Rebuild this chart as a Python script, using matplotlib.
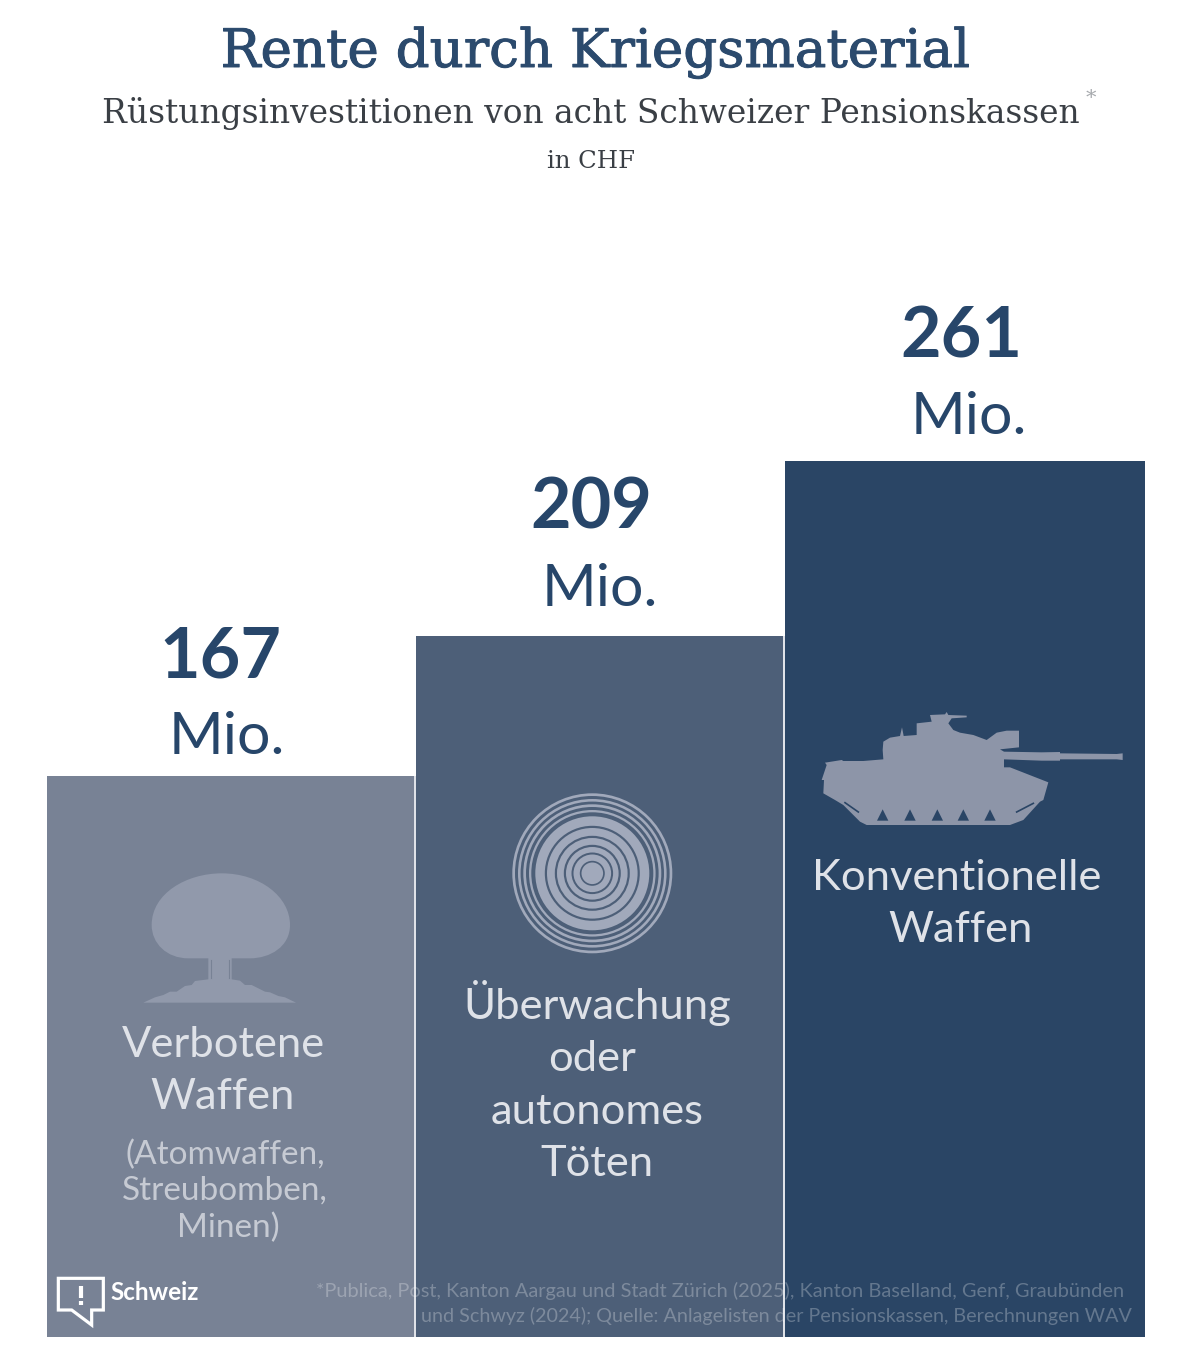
import matplotlib
matplotlib.use('Agg')
import matplotlib.pyplot as plt
import matplotlib.patheffects as pe
from matplotlib.patches import Circle, PathPatch, Polygon
from matplotlib.path import Path

W, H = 1200, 1355
SANS = 'Lato'
SERIF = 'DejaVu Serif'

# data
categories = ['Verbotene Waffen', 'Überwachung oder autonomes Töten', 'Konventionelle Waffen']
values_mio = [167, 209, 261]
bar_colors = ['#788295', '#4d5f78', '#2a4565']
bar_left = [47, 416, 785]
bar_width = [367, 367, 360]

INK = '#27466a'
LABEL = '#dfe2e8'

fig = plt.figure(figsize=(W / 100, H / 100), dpi=100, facecolor='white')

# bars, y axis in CHF million
bar_ax = fig.add_axes([0, (H - 1337) / H, 1, 876 / H])
bar_ax.set_xlim(0, W)
bar_ax.set_ylim(0, 261)
bar_ax.axis('off')
bar_ax.bar(bar_left, values_mio, width=bar_width, align='edge', color=bar_colors, linewidth=0)

# everything else in pixel coordinates, y pointing down
ax = fig.add_axes([0, 0, 1, 1])
ax.set_xlim(0, W)
ax.set_ylim(H, 0)
ax.axis('off')
ax.patch.set_alpha(0)


def txt(x, y, s, size, color=LABEL, weight='normal', family=SANS, **kw):
    return ax.text(x, y, s, fontsize=size, color=color, fontweight=weight, family=family,
                   ha=kw.pop('ha', 'center'), va='center', **kw)


# header
title = txt(595, 53, 'Rente durch Kriegsmaterial', 38.2, color='#2b4a6d', family=SERIF)
title.set_path_effects([pe.withStroke(linewidth=0.7, foreground='#2b4a6d')])
txt(591, 114, 'Rüstungsinvestitionen von acht Schweizer Pensionskassen', 23.7, color='#3a3f45', family=SERIF)
txt(1091, 99, '*', 15, color='#a6a9ad', family=SERIF)
txt(591, 161, 'in CHF', 17.6, color='#3a3f45', family=SERIF)

# value labels above the bars
for v, x_num, x_mio, y_num, y_mio in zip(values_mio, [220, 591, 961], [227, 600, 969],
                                         [657, 508, 337], [737, 589, 417]):
    txt(x_num, y_num, str(v), 50.5, color=INK, weight='bold')
    txt(x_mio, y_mio, 'Mio.', 42.5, color=INK)

# category names inside the bars
for x, y, s in [(223, 1045, 'Verbotene'), (223, 1097, 'Waffen'),
                (597, 1003, 'Überwachung'), (592, 1059, 'oder'),
                (597, 1112, 'autonomes'), (597, 1164, 'Töten'),
                (957, 878, 'Konventionelle'), (961, 930, 'Waffen')]:
    txt(x, y, s, 31.3)
for x, y, s in [(225, 1155, '(Atomwaffen,'), (225, 1191, 'Streubomben,'), (228, 1228, 'Minen)')]:
    txt(x, y, s, 24, color='#c6cad3')


# mushroom cloud
def mush(x, y):
    return (130 + x / 3, 860 + y / 3)


M, L, C = Path.MOVETO, Path.LINETO, Path.CURVE4
cloud = [(M, 65, 195), (C, 65, 100), (C, 170, 40), (C, 275, 40),
         (C, 390, 40), (C, 480, 110), (C, 480, 195),
         (C, 480, 260), (C, 420, 295), (C, 360, 295),
         (L, 305, 295), (L, 305, 358), (L, 330, 362), (L, 345, 375), (L, 365, 375),
         (L, 385, 385), (L, 405, 395), (L, 420, 397), (L, 445, 408), (L, 465, 412),
         (L, 498, 428), (L, 40, 428), (L, 75, 412), (L, 100, 405), (L, 120, 395),
         (L, 140, 395), (L, 165, 378), (L, 185, 375), (L, 195, 363), (L, 235, 358),
         (L, 235, 295), (L, 175, 295),
         (C, 110, 295), (C, 65, 250), (C, 65, 195)]
ax.add_patch(PathPatch(Path([mush(x, y) for _, x, y in cloud], [c for c, _, _ in cloud]),
                       fc='#9199ab', ec='none'))
for x in [243, 297]:
    ax.plot(*zip(mush(x, 300), mush(x, 355)), color='#788295', lw=0.8)

# concentric rings, light and dark bands from the outside in
ring_radii = [80, 77.3, 74.3, 71.7, 69, 66.3, 63.3, 61, 57, 47.5, 45.3, 37.5, 35.3, 28.5, 26.3, 20.8, 18.8, 12.5, 10.8]
for i, r in enumerate(ring_radii):
    ax.add_patch(Circle((592.3, 873.3), r, fc='#4d5f78' if i % 2 else '#a1a9bb', ec='none'))


# tank
def tank(x, y):
    return (800 + x / 3, 690 + y / 3)


hull = [(75, 218), (125, 210), (130, 213), (190, 213), (250, 208), (248, 180), (250, 155), (270, 143),
        (300, 138), (306, 112), (311, 138), (350, 135), (350, 100), (395, 95), (390, 75), (435, 73),
        (440, 66), (445, 75), (500, 77), (500, 82), (455, 85), (445, 100), (460, 120), (480, 128),
        (520, 135), (560, 150), (590, 128), (620, 122), (657, 122), (657, 172), (600, 178), (612, 185),
        (725, 187), (780, 186), (780, 190), (950, 192), (968, 190), (968, 210), (950, 208), (780, 208),
        (780, 212), (725, 212), (612, 208), (612, 232), (630, 232), (745, 277), (730, 330), (720, 335),
        (670, 390), (630, 405), (200, 405), (180, 395), (130, 345), (105, 330), (70, 310), (72, 270),
        (65, 270), (80, 225)]
ax.add_patch(Polygon([tank(x, y) for x, y in hull], closed=True, fc='#8d95a8', ec='none'))
for cx in [248, 330, 412, 490, 570]:
    ax.add_patch(Polygon([tank(cx, 358), tank(cx + 17, 392), tank(cx - 17, 392)], fc='#2a4565', ec='none'))
ax.plot(*zip(tank(135, 338), tank(175, 366)), color='#2a4565', lw=1.2)
ax.plot(*zip(tank(650, 366), tank(700, 340)), color='#2a4565', lw=1.2)

# footnote runs across the bars, separators sit on top of it
txt(316, 1291, '*Publica, Post, Kanton Aargau und Stadt Zürich (2025), Kanton Baselland, Genf, Graubünden',
    14.4, color='white', alpha=0.27, ha='left')
txt(421, 1316, 'und Schwyz (2024); Quelle: Anlagelisten der Pensionskassen, Berechnungen WAV',
    14.2, color='white', alpha=0.27, ha='left')
for x, top in [(415, 776), (784, 636)]:
    ax.plot([x, x], [top, 1337], color='#dfe2e8', lw=1.4, solid_capstyle='butt')

# logo
bubble = [(55, 55), (190, 55), (190, 150), (155, 150), (155, 195), (95, 150), (55, 150)]
ax.add_patch(Polygon([(40 + x / 3, 1260 + y / 3) for x, y in bubble], closed=True, fc='none', ec='white',
                     lw=2.3, joinstyle='miter'))
ax.plot([81, 81], [1286, 1298], color='white', lw=3, solid_capstyle='butt')
ax.plot([81, 81], [1301, 1305], color='white', lw=3, solid_capstyle='butt')
txt(110, 1293, 'Schweiz', 17.5, color='white', weight='bold', ha='left')

fig.savefig('out.png', dpi=100)
